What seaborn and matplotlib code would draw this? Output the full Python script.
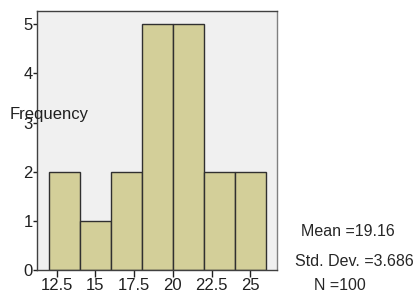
import numpy as np
import seaborn as sns
import matplotlib.pyplot as plt

# --- Data ---
bin_edges = [12, 14, 16, 18, 20, 22, 24, 26]
counts = [2, 1, 2, 5, 5, 2, 2]
x_ticks = [12.5, 15, 17.5, 20, 22.5, 25]
x_tick_labels = ["12.5", "15", "17.5", "20", "22.5", "25"]
y_ticks = [0, 1, 2, 3, 4, 5]
stats_lines = ["Mean =19.16", "Std. Dev. =3.686", "N =100"]

sns.set_style("white")
plt.rcParams['font.family'] = ['Liberation Sans', 'DejaVu Sans']

W, H = 418, 292
fig = plt.figure(figsize=(W / 100, H / 100), dpi=100)
ax = fig.add_axes([37 / W, (H - 270) / H, 240 / W, 259 / H])
ax.set_facecolor("#f0f0f0")

centers = [(a + b) / 2 for a, b in zip(bin_edges[:-1], bin_edges[1:])]
sns.histplot(x=centers, weights=counts, bins=bin_edges, ax=ax,
             color="#d3cf99", alpha=1, edgecolor="#303030", linewidth=1)

ax.set_xlim(11.23, 26.73)
ax.set_ylim(0, 5.27)
ax.set_xticks(x_ticks)
ax.set_xticklabels(x_tick_labels)
ax.set_yticks(y_ticks)
ax.set_xlabel("")
ax.set_ylabel("")
ax.tick_params(axis="x", direction="out", length=5, width=1, pad=1,
               labelsize=12, colors="#202020", bottom=True)
ax.tick_params(axis="y", direction="out", length=3, width=1, pad=0,
               labelsize=12, colors="#202020", left=True)

for side in ["left", "bottom", "top"]:
    ax.spines[side].set_color("#404040")
    ax.spines[side].set_linewidth(1)
ax.spines["right"].set_color("#808080")
ax.spines["right"].set_linewidth(1)

fig.text(10 / W, 1 - 115 / H, "Frequency", fontsize=12, ha="left", va="center",
         color="#202020")

fig.text(348 / W, 1 - 232 / H, stats_lines[0], fontsize=11.5, ha="center", va="center")
fig.text(354 / W, 1 - 261 / H, stats_lines[1], fontsize=11.5, ha="center", va="center")
fig.text(340 / W, 1 - 285 / H, stats_lines[2], fontsize=11.5, ha="center", va="center")

fig.savefig("out.png", dpi=100)
